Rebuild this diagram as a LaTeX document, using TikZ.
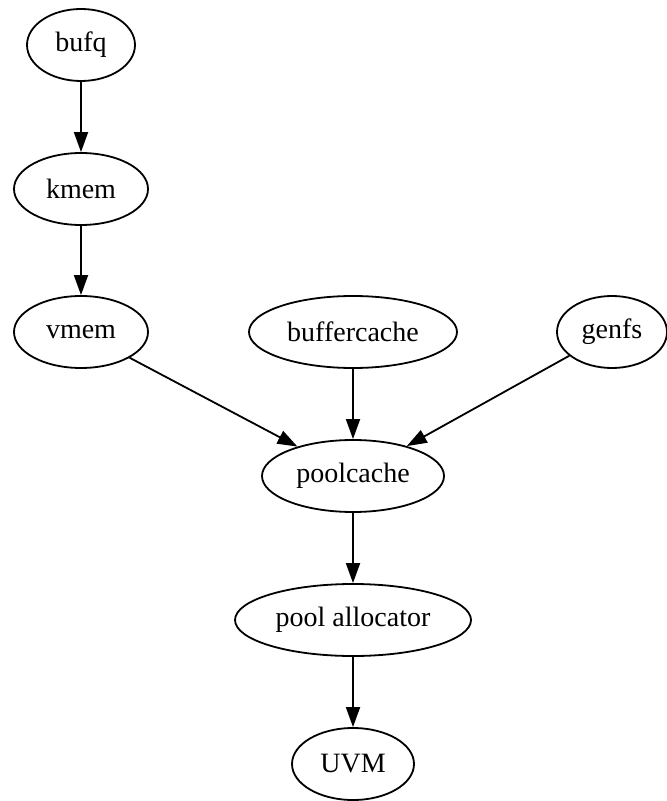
\documentclass[tikz,border=0pt]{standalone}
\usepackage{fontspec}
\setmainfont{Liberation Serif}
\usepackage{tikz}
\usetikzlibrary{arrows.meta, shapes}
\tikzset{
        x=0.5pt, y=-0.5pt, % one unit is one pixel of the drawing, y going down
        >={Triangle[length=10pt, width=7pt]}, % filled arrow head on every edge
    }
\tikzstyle{vertex}=[draw,ellipse,line width=0.9pt,minimum height=36pt,inner sep=0pt,font=\fontsize{14}{16}\selectfont]
\tikzstyle{edge}=[->,line width=0.9pt]

\begin{document}
\begin{tikzpicture}
    \useasboundingbox (0,0) rectangle (667,801);
    \node[vertex, minimum width=54pt] (bufq) at (81,45) {bufq};
    \node[vertex, minimum width=67pt] (kmem) at (81,189) {kmem};
    \node[vertex, minimum width=67pt] (vmem) at (81,332) {vmem};
    \node[vertex, minimum width=104pt] (buffercache) at (353,332) {buffercache};
    \node[vertex, minimum width=55pt] (genfs) at (612,332) {genfs};
    \node[vertex, minimum width=91pt] (poolcache) at (353,476) {poolcache};
    \node[vertex, minimum width=118pt] (allocator) at (353,620) {pool allocator};
    \node[vertex, minimum width=61pt] (uvm) at (353,764) {UVM};

    \draw[edge] (bufq) -- (kmem);
    \draw[edge] (kmem) -- (vmem);
    \draw[edge] (vmem) -- (poolcache);
    \draw[edge] (buffercache) -- (poolcache);
    \draw[edge] (genfs) -- (poolcache);
    \draw[edge] (poolcache) -- (allocator);
    \draw[edge] (allocator) -- (uvm);
\end{tikzpicture}
\end{document}
